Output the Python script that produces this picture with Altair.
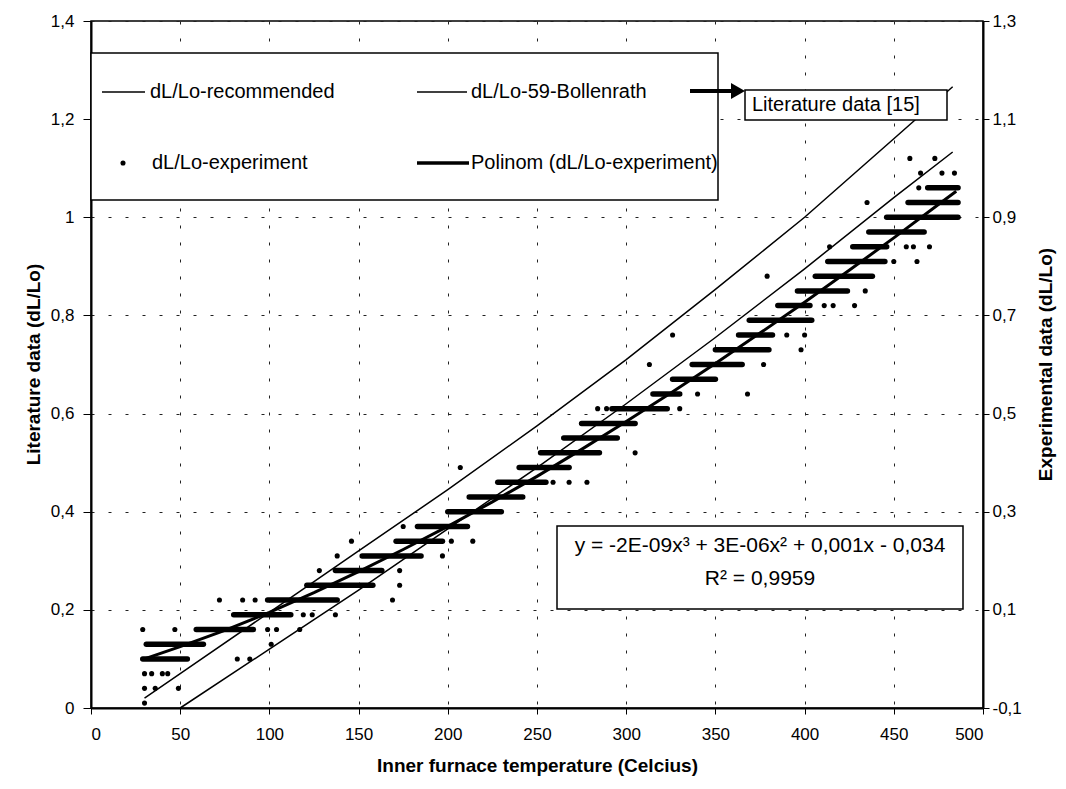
import altair as alt
import pandas as pd

FONT = "Liberation Sans"

# ---------------- data ----------------
# literature curves (left axis, dL/Lo)
rec_T = [30, 50, 100, 150, 200, 250, 300, 350, 400, 450, 483]
rec_v = [0.02, 0.07, 0.195, 0.32, 0.445, 0.575, 0.71, 0.853, 1.0, 1.16, 1.266]

bol_T = [50, 100, 150, 200, 250, 300, 350, 400, 450, 483]
bol_v = [0.0, 0.12, 0.24, 0.365, 0.49, 0.62, 0.755, 0.895, 1.04, 1.133]

# experiment (right axis): dense horizontal runs of points at quantised levels
run_level = [0.00, 0.03, 0.06, 0.09, 0.12, 0.15, 0.18, 0.21, 0.24, 0.27, 0.30,
             0.33, 0.36, 0.39, 0.42, 0.45, 0.48, 0.51, 0.54, 0.57, 0.60, 0.63,
             0.66, 0.69, 0.72, 0.75, 0.78, 0.81, 0.84, 0.87, 0.90, 0.93, 0.96]
run_from = [29, 31, 59, 80, 99, 121, 137, 152, 171, 183, 200,
            212, 228, 240, 252, 265, 275, 292, 315, 326, 337, 350,
            363, 369, 385, 396, 406, 413, 427, 436, 446, 458, 469]
run_to = [54, 63, 91, 112, 138, 158, 163, 185, 197, 211, 230,
          242, 255, 268, 285, 295, 305, 323, 330, 350, 365, 380,
          382, 404, 403, 424, 438, 445, 446, 467, 486, 486, 486]

# experiment: isolated points
dot_T = [30, 30, 36, 49, 30, 34, 40, 43,
         29, 47, 99, 104, 117,
         72, 85, 92, 169,
         119, 124, 137,
         82, 89, 101,
         128, 173, 173, 175, 146, 138, 202, 214, 197, 207,
         259, 268, 278, 305,
         284, 289, 330, 340, 368, 313, 377, 398, 326, 390, 400, 403,
         411, 416, 428, 434, 379, 450, 463, 414, 457, 461, 470,
         435, 464, 465, 477, 484, 459, 473]
dot_v = [-0.09, -0.06, -0.06, -0.06, -0.03, -0.03, -0.03, -0.03,
         0.06, 0.06, 0.06, 0.06, 0.06,
         0.12, 0.12, 0.12, 0.12,
         0.09, 0.09, 0.09,
         0.00, 0.00, 0.03,
         0.18, 0.18, 0.15, 0.27, 0.24, 0.21, 0.24, 0.24, 0.21, 0.39,
         0.36, 0.36, 0.36, 0.42,
         0.51, 0.51, 0.51, 0.54, 0.54, 0.60, 0.60, 0.63, 0.66, 0.66, 0.66, 0.69,
         0.72, 0.72, 0.72, 0.75, 0.78, 0.81, 0.81, 0.84, 0.84, 0.84, 0.84,
         0.93, 0.96, 0.99, 0.99, 0.99, 1.02, 1.02]

# polynomial trend line (right axis)
poly_T = [30, 50, 75, 100, 125, 150, 175, 200, 225, 250, 275, 300, 325, 350,
          375, 400, 425, 450, 475, 485]
poly_v = [0.0, 0.025, 0.058, 0.095, 0.135, 0.178, 0.223, 0.27, 0.32, 0.372,
          0.427, 0.484, 0.542, 0.602, 0.664, 0.727, 0.792, 0.858, 0.926, 0.953]

x_ticks = [0, 50, 100, 150, 200, 250, 300, 350, 400, 450, 500]
yl_ticks = [0, 0.2, 0.4, 0.6, 0.8, 1.0, 1.2, 1.4]
yr_ticks = [-0.1, 0.1, 0.3, 0.5, 0.7, 0.9, 1.1, 1.3]

legend_labels = ["dL/Lo-recommended", "dL/Lo-59-Bollenrath",
                 "dL/Lo-experiment", "Polinom (dL/Lo-experiment)"]
note_text = "Literature data [15]"
eq_line1 = "y = -2E-09x\u00b3 + 3E-06x\u00b2 + 0,001x - 0,034"
eq_line2 = "R\u00b2 = 0,9959"

# ---------------- scales / axes ----------------
xs = alt.Scale(domain=[0, 500], nice=False, zero=False)
yl = alt.Scale(domain=[0, 1.4], nice=False, zero=False)
yr = alt.Scale(domain=[-0.1, 1.3], nice=False, zero=False)

ax_x = alt.Axis(values=x_ticks, title="Inner furnace temperature (Celcius)",
                grid=True, gridDash=[3, 14], gridColor="#222", gridWidth=1,
                domainColor="black", domainWidth=2, tickColor="black", tickSize=6,
                labelPadding=12, labelFontSize=17, labelFont=FONT, labelColor="black",
                titleFont=FONT, titleFontSize=19, titleFontWeight="bold", titleColor="black",
                titleX=446, titleY=57, titleBaseline="middle", titleAlign="center")
ax_l = alt.Axis(values=yl_ticks, orient="left", title="Literature data  (dL/Lo)",
                labelExpr="replace(format(datum.value, '.1~f'), '.', ',')",
                grid=True, gridDash=[3, 14], gridColor="#222", gridWidth=1,
                domainColor="black", domainWidth=2, tickColor="black", tickSize=8,
                labelPadding=9, labelFontSize=17, labelFont=FONT, labelColor="black",
                titleFont=FONT, titleFontSize=19, titleFontWeight="bold", titleColor="black",
                titleAngle=270, titleX=-58, titleY=343, titleBaseline="middle", titleAlign="center")
ax_r = alt.Axis(values=yr_ticks, orient="right", title="Experimental data (dL/Lo)",
                labelExpr="replace(replace(format(datum.value, '.1f'), '.', ','), '\u2212', '-')",
                grid=False,
                domainColor="black", domainWidth=2, tickColor="black", tickSize=6,
                labelPadding=3, labelFontSize=17, labelFont=FONT, labelColor="black",
                titleFont=FONT, titleFontSize=19, titleFontWeight="bold", titleColor="black",
                titleAngle=270, titleX=62, titleY=343, titleBaseline="middle", titleAlign="center")

# ---------------- left-axis layers ----------------
rec_df = pd.DataFrame({"T": rec_T, "v": rec_v})
bol_df = pd.DataFrame({"T": bol_T, "v": bol_v})

rec_line = alt.Chart(rec_df).mark_line(color="black", strokeWidth=1.5).encode(
    x=alt.X("T:Q", scale=xs, axis=ax_x), y=alt.Y("v:Q", scale=yl, axis=ax_l))
bol_line = alt.Chart(bol_df).mark_line(color="black", strokeWidth=1.5).encode(
    x=alt.X("T:Q", scale=xs, axis=ax_x), y=alt.Y("v:Q", scale=yl, axis=ax_l))
left = alt.layer(rec_line, bol_line)

# ---------------- right-axis layers ----------------
run_df = pd.DataFrame({"a": run_from, "b": run_to, "v": run_level})
dot_df = pd.DataFrame({"T": dot_T, "v": dot_v})
poly_df = pd.DataFrame({"T": poly_T, "v": poly_v})

runs = alt.Chart(run_df).mark_rule(color="black", strokeWidth=5.5, strokeCap="round").encode(
    x=alt.X("a:Q", scale=xs, axis=ax_x), x2="b:Q", y=alt.Y("v:Q", scale=yr, axis=ax_r))
dots = alt.Chart(dot_df).mark_circle(color="black", size=26, opacity=1).encode(
    x=alt.X("T:Q", scale=xs, axis=ax_x), y=alt.Y("v:Q", scale=yr, axis=ax_r))
poly = alt.Chart(poly_df).mark_line(color="black", strokeWidth=3).encode(
    x=alt.X("T:Q", scale=xs, axis=ax_x), y=alt.Y("v:Q", scale=yr, axis=ax_r))
right = alt.layer(runs, dots, poly)


# ---------------- annotations (legend, note, equation) ----------------
def one():
    return pd.DataFrame({"k": [0]})


def box(x1, x2, y1, y2):
    return alt.Chart(one()).mark_rect(fill="white", stroke="black", strokeWidth=1.5).encode(
        x=alt.value(x1), x2=alt.value(x2), y=alt.value(y1), y2=alt.value(y2))


def seg(x1, x2, y, w):
    return alt.Chart(one()).mark_rule(color="black", strokeWidth=w).encode(
        x=alt.value(x1), x2=alt.value(x2), y=alt.value(y))


def txt(s, x, y, size, align="left"):
    return alt.Chart(one()).mark_text(text=s, align=align, baseline="middle", font=FONT,
                                      fontSize=size, color="black").encode(
        x=alt.value(x), y=alt.value(y))


legend_box = box(0, 627, 32, 179)
leg1 = seg(11, 54, 71, 1.5)
leg1t = txt(legend_labels[0], 59, 71, 20)
leg2 = seg(326, 376, 71, 1.5)
leg2t = txt(legend_labels[1], 380, 71, 20)
leg3 = alt.Chart(one()).mark_circle(color="black", size=26, opacity=1).encode(
    x=alt.value(32), y=alt.value(142))
leg3t = txt(legend_labels[2], 61, 142, 20)
leg4 = seg(326, 378, 142, 3.5)
leg4t = txt(legend_labels[3], 380, 142, 20)

arrow = seg(599, 640, 70, 4)
arrow_head = alt.Chart(one()).mark_point(shape="triangle-right", filled=True, color="black",
                                         size=260, opacity=1).encode(
    x=alt.value(647), y=alt.value(70))
note_box = box(654, 856, 69, 99)
note = txt(note_text, 661, 84, 20)

eq_box = box(466, 872, 505, 588)
eq1 = txt(eq_line1, 669, 525, 21, "center")
eq2 = txt(eq_line2, 669, 558, 21, "center")

chart = alt.layer(
    left, right,
    legend_box, leg1, leg1t, leg2, leg2t, leg3, leg3t, leg4, leg4t,
    arrow, arrow_head, note_box, note,
    eq_box, eq1, eq2,
).resolve_scale(y="independent").properties(
    width=892, height=687,
    autosize=alt.AutoSizeParams(type="none"),
    padding={"left": 83, "top": 13, "right": 75, "bottom": 73},
    background="white",
).configure_view(stroke="black", strokeWidth=1.5)

chart.save("out.html", embed_options={"renderer": "svg", "actions": False})
